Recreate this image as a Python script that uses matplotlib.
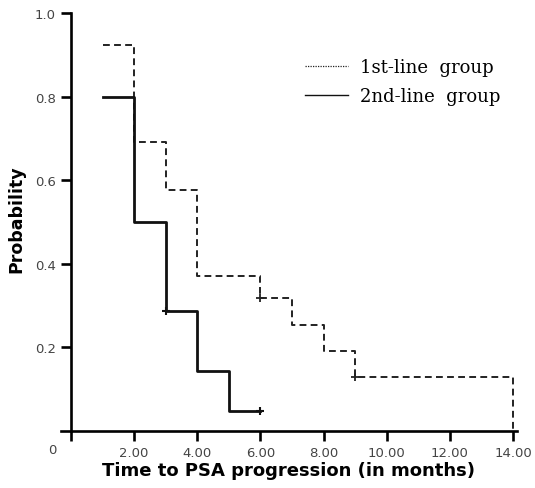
import numpy as np
import matplotlib.pyplot as plt
from matplotlib.lines import Line2D

# Kaplan-Meier steps
first_times = [1, 2, 3, 4, 6, 7, 8, 9, 14]
first_surv = [0.923, 0.692, 0.577, 0.371, 0.318, 0.254, 0.191, 0.128, 0.0]
first_censor_t = [6, 9]
first_censor_s = [0.318, 0.128]

second_times = [1, 2, 3, 4, 5, 6]
second_surv = [0.80, 0.50, 0.286, 0.143, 0.048, 0.048]
second_censor_t = [3, 6]
second_censor_s = [0.286, 0.048]

x_ticks = [2, 4, 6, 8, 10, 12, 14]
x_tick_labels = ["2.00", "4.00", "6.00", "8.00", "10.00", "12.00", "14.00"]
y_ticks = [0.2, 0.4, 0.6, 0.8, 1.0]
y_tick_labels = ["0.2", "0.4", "0.6", "0.8", "1.0"]

fig = plt.figure(figsize=(5.35, 4.89), dpi=100)
ax = fig.add_axes([0.1133, 0.1166, 0.8533, 0.8548])

# step curves (value holds until next time point)
ax.step(first_times, first_surv, where="post", color="#222222", lw=1.4, linestyle=(0, (3.5, 2.2)))
ax.step(second_times, second_surv, where="post", color="#111111", lw=2.0)
ax.plot(first_censor_t, first_censor_s, "+", color="#222222", ms=6, mew=1.3)
ax.plot(second_censor_t, second_censor_s, "+", color="#111111", ms=6, mew=1.5)

ax.set_xlim(-0.33, 14.13)
ax.set_ylim(0, 1.0)

ax.spines["top"].set_visible(False)
ax.spines["right"].set_visible(False)
ax.spines["left"].set_position(("data", 0))
for s in ["left", "bottom"]:
    ax.spines[s].set_linewidth(1.9)

ax.set_xticks([0] + x_ticks)
ax.set_xticklabels([""] + x_tick_labels)
ax.set_yticks(y_ticks)
ax.set_yticklabels(y_tick_labels)
ax.tick_params(axis="both", direction="out", length=7, width=1.9, labelsize=9.5,
               labelcolor="#444444", pad=4)
ax.text(-0.6, -0.045, "0", fontsize=9.5, color="#444444", ha="center", va="center",
        transform=ax.transData, clip_on=False)

ax.set_ylabel("Probability", fontsize=12.5, fontweight="bold", family="DejaVu Sans")
ax.yaxis.set_label_coords(-0.078, 0.51)
ax.set_xlabel("Time to PSA progression (in months)", fontsize=13, fontweight="bold",
              family="DejaVu Sans", labelpad=1)

handles = [Line2D([], [], color="#222222", lw=0.9, linestyle=(0, (1, 1))),
           Line2D([], [], color="#111111", lw=1.0)]
ax.legend(handles, ["1st-line  group", "2nd-line  group"], frameon=False,
          prop={"family": "DejaVu Serif", "size": 13}, loc="upper left",
          bbox_to_anchor=(0.5, 0.93), handlelength=2.4, handletextpad=0.65,
          labelspacing=0.6)

fig.savefig("out.png", dpi=100)
